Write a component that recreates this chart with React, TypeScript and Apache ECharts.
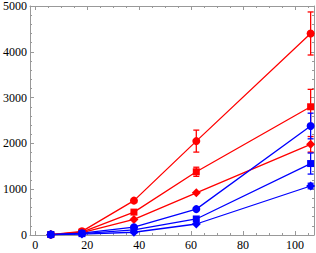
import React, { useEffect, useRef } from "react";
import * as echarts from "echarts";

const xValues = [6, 18, 38, 62, 106];
const red1 = [10, 80, 750, 2050, 4400];
const red2 = [10, 65, 500, 1380, 2800];
const red3 = [10, 50, 340, 920, 1980];
const blue1 = [10, 40, 170, 565, 2380];
const blue2 = [10, 30, 110, 350, 1560];
const blue3 = [10, 20, 60, 240, 1070];
const red1Err = [0, 0, 0, 240, 470];
const red2Err = [0, 0, 0, 100, 380];
const red3Err = [0, 0, 0, 0, 170];
const blue1Err = [0, 0, 0, 0, 280];
const blue2Err = [0, 0, 0, 0, 230];
const blue3Err = [0, 0, 0, 0, 60];
const xMajorTicks = [0, 20, 40, 60, 80, 100];
const xMinorTicks = [5, 10, 15, 25, 30, 35, 45, 50, 55, 65, 70, 75, 85, 90, 95, 105];

const RED = "#ff0000";
const BLUE = "#0000ff";
const AXIS = "#999999";
const FONT = "Liberation Serif";

export default function App() {
  const ref = useRef<HTMLDivElement>(null);
  useEffect(() => {
    if (!ref.current) return;
    const chart = echarts.init(ref.current, undefined, { renderer: "svg" });
    const xMin = -2;
    const xMax = 107.3;
    const xAxisBase = (pos: string, ticks: number[], len: number, labels: boolean, line: boolean) => ({
      type: "value",
      position: pos,
      min: xMin,
      max: xMax,
      axisLine: { show: line, onZero: false, lineStyle: { color: AXIS, width: 1 } },
      axisTick: { show: true, inside: true, length: len, customValues: ticks, lineStyle: { color: AXIS } },
      axisLabel: labels
        ? { show: true, customValues: ticks, color: "#000", fontFamily: FONT, fontSize: 12, margin: 4 }
        : { show: false },
      splitLine: { show: false },
    });
    const yAxisBase = (pos: string, labels: boolean) => ({
      type: "value",
      position: pos,
      min: 0,
      max: 5000,
      interval: 1000,
      axisLine: { show: true, onZero: false, lineStyle: { color: AXIS, width: 1 } },
      axisTick: { show: true, inside: true, length: 4, lineStyle: { color: AXIS } },
      minorTick: { show: true, splitNumber: 5, length: 2, lineStyle: { color: AXIS } },
      axisLabel: labels
        ? {
            show: true,
            color: "#000",
            fontFamily: FONT,
            fontSize: 12,
            margin: 3,
            formatter: (v: number) => String(v),
          }
        : { show: false },
      splitLine: { show: false },
      minorSplitLine: { show: false },
    });
    const lineSeries = (vals: number[], color: string, symbol: string, size: number) => ({
      type: "line",
      data: vals.map((v, i) => [xValues[i], v]),
      symbol,
      symbolSize: size,
      showSymbol: true,
      itemStyle: { color },
      lineStyle: { color, width: 1.3 },
      xAxisIndex: 0,
      yAxisIndex: 0,
    });
    const errSeries = (vals: number[], errs: number[], color: string) => ({
      type: "custom",
      xAxisIndex: 0,
      yAxisIndex: 0,
      data: vals.map((v, i) => [xValues[i], v, errs[i]]),
      encode: { x: 0, y: 1 },
      z: 3,
      renderItem: (params: any, api: any) => {
        const x = api.value(0);
        const y = api.value(1);
        const e = api.value(2);
        if (!e) return null;
        const top = api.coord([x, y + e]);
        const bot = api.coord([x, y - e]);
        const w = 3;
        const style = { stroke: color, lineWidth: 1.3 };
        return {
          type: "group",
          children: [
            { type: "line", shape: { x1: top[0], y1: top[1], x2: bot[0], y2: bot[1] }, style },
            { type: "line", shape: { x1: top[0] - w, y1: top[1], x2: top[0] + w, y2: top[1] }, style },
            { type: "line", shape: { x1: bot[0] - w, y1: bot[1], x2: bot[0] + w, y2: bot[1] }, style },
          ],
        };
      },
    });
    chart.setOption({
      animation: false,
      grid: { left: 28, top: 5, right: 2, bottom: 18, containLabel: false },
      xAxis: [
        xAxisBase("bottom", xMajorTicks, 4, true, true),
        xAxisBase("bottom", xMinorTicks, 2, false, false),
        xAxisBase("top", xMajorTicks, 4, false, true),
        xAxisBase("top", xMinorTicks, 2, false, false),
      ],
      yAxis: [yAxisBase("left", true), yAxisBase("right", false)],
      series: [
        lineSeries(red1, RED, "circle", 8),
        lineSeries(red2, RED, "rect", 7),
        lineSeries(red3, RED, "diamond", 9),
        errSeries(red1, red1Err, RED),
        errSeries(red2, red2Err, RED),
        errSeries(red3, red3Err, RED),
        lineSeries(blue1, BLUE, "circle", 8),
        lineSeries(blue2, BLUE, "rect", 7),
        lineSeries(blue3, BLUE, "diamond", 9),
        errSeries(blue1, blue1Err, BLUE),
        errSeries(blue2, blue2Err, BLUE),
        errSeries(blue3, blue3Err, BLUE),
      ],
    });
    return () => chart.dispose();
  }, []);
  return (
    <div
      ref={ref}
      style={{ position: "fixed", left: 0, top: 0, width: 316, height: 253, background: "#fff" }}
    />
  );
}
